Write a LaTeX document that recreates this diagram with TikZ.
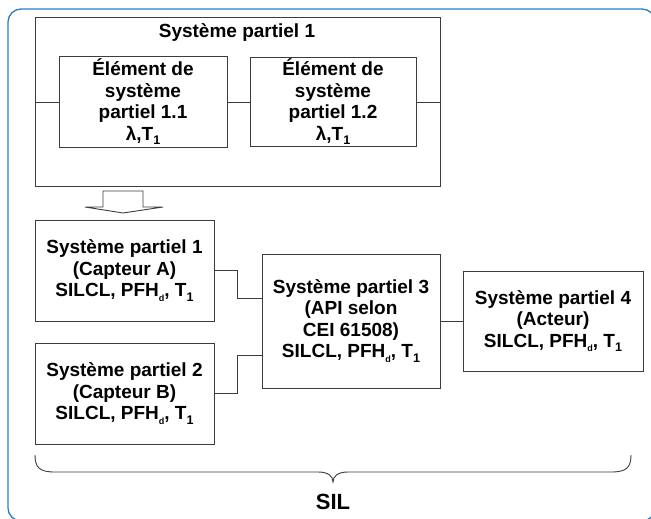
\documentclass[tikz,border=0pt]{standalone}
\usepackage{fontspec}
\setmainfont{Liberation Sans}
\usepackage{tikz}
\usetikzlibrary{calc}
\definecolor{frameblue}{RGB}{45, 125, 195}
\definecolor{boxgray}{RGB}{60, 60, 60}
\newcommand{\lowsub}[2][12.5]{\raisebox{-4.5pt}{\fontsize{#1}{#1}\selectfont #2}}

\begin{document}
\begin{tikzpicture}[x=1pt, y=-1pt,
  box/.style={draw=boxgray, line width=1pt, align=center, inner sep=0pt, font=\bfseries\fontsize{19}{21.5}\selectfont},
  wire/.style={draw=boxgray, line width=0.9pt}]
  \useasboundingbox (0,0) rectangle (651,519);
  % Outer frame
  \begin{scope}
    \clip (0,0) rectangle (651,519);
    \draw[frameblue, line width=1.3pt, rounded corners=13pt] (8,9) rectangle (655,521);
  \end{scope}
  % Subsystem 1 with its two elements
  \node[box, minimum width=405pt, minimum height=169pt] (sys1) at (237.5,101.75) {};
  \node[font=\bfseries\fontsize{19}{21.5}\selectfont] (sys1title) at (237,33) {Système partiel 1};
  \node[box, minimum width=168pt, minimum height=90pt] (elem11) at (143,102) {Élément de\\système\\partiel 1.1\\λ,T\lowsub{1}};
  \node[box, minimum width=166pt, minimum height=89pt] (elem12) at (333,102) {Élément de\\système\\partiel 1.2\\λ,T\lowsub{1}};
  \draw[wire] (sys1.west |- elem11.west) -- (elem11.west);
  \draw[wire] (elem11.east) -- (elem12.west);
  \draw[wire] (elem12.east) -- (sys1.east |- elem12.east);
  % Hollow arrow
  \draw[wire, line join=miter] (103,191) -- (143,191) -- (143,207) -- (163,207) -- (123,213) -- (85,207) -- (103,207) -- cycle;
  % Chain of subsystems
  \node[box, minimum width=179pt, minimum height=101pt] (sensA) at (124.5,270.5) {Système partiel 1\\(Capteur A)\\SILCL, PFH\lowsub[9]{d}, T\lowsub{1}};
  \node[box, minimum width=179pt, minimum height=101pt] (sensB) at (124.5,393.5) {Système partiel 2\\(Capteur B)\\SILCL, PFH\lowsub[9]{d}, T\lowsub{1}};
  \node[box, minimum width=178pt, minimum height=134pt] (plc) at (351,321) {Système partiel 3\\(API selon\\ CEI 61508)\\SILCL, PFH\lowsub[9]{d}, T\lowsub{1}};
  \node[box, minimum width=180pt, minimum height=100pt] (act) at (553,321) {Système partiel 4\\(Acteur)\\SILCL, PFH\lowsub[9]{d}, T\lowsub{1}};
  \draw[wire] (sensA.east) -- ++(23,0) |- ($(plc.west)+(0,-23)$);
  \draw[wire] (sensB.east) -- ++(23,0) |- ($(plc.west)+(0,34)$);
  \draw[wire] (plc.east) -- (act.west);
  % Brace
  \draw[wire] (35,455) .. controls (35,468) and (40,472) .. (55,472) -- (318,472)
    .. controls (328,472) and (333,476) .. (333,482)
    .. controls (333,476) and (338,472) .. (348,472) -- (611,472)
    .. controls (626,472) and (631,468) .. (631,455);
  \node[font=\bfseries\fontsize{22}{22}\selectfont] (sil) at (333,502) {SIL};
\end{tikzpicture}
\end{document}
